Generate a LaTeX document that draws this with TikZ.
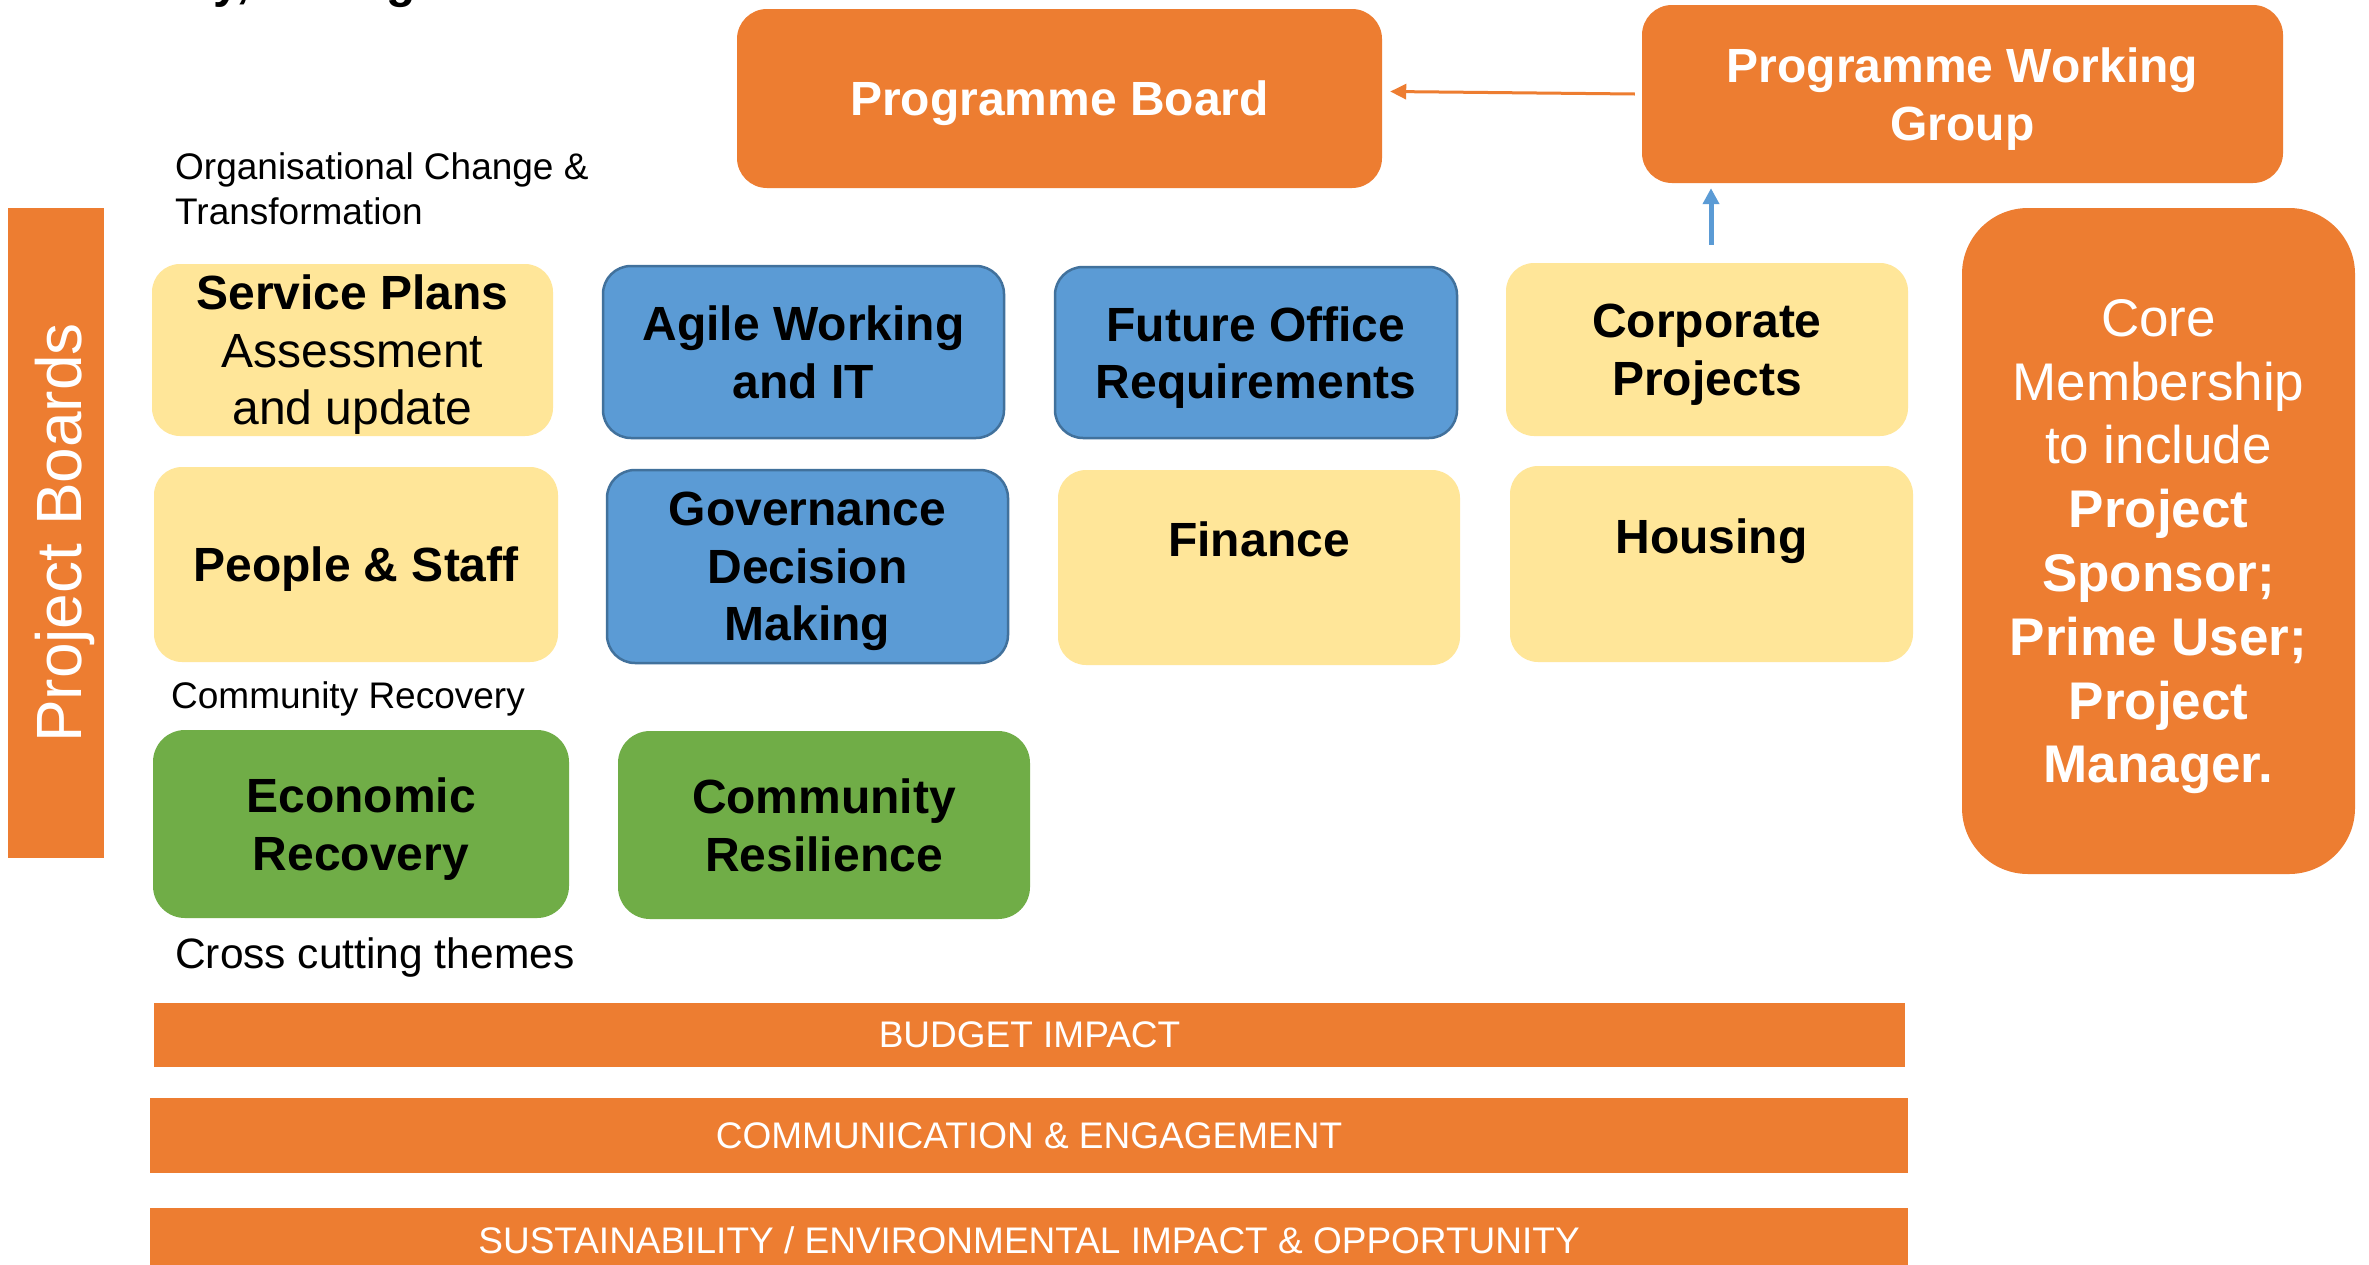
\documentclass[tikz,border=0pt]{standalone}
\usepackage{fontspec}
\setmainfont{Liberation Sans}
\usetikzlibrary{arrows.meta}
\definecolor{orng}{HTML}{ED7D31}
\definecolor{ylw}{HTML}{FFE699}
\definecolor{blu}{HTML}{5B9BD5}
\definecolor{bluedge}{HTML}{41719C}
\definecolor{grn}{HTML}{70AD47}
\tikzset{
  boxbase/.style={rounded corners=28pt, inner sep=0pt, align=center, text depth=0pt,
    font=\bfseries\fontsize{48}{57.6}\selectfont},
  orbox/.style={boxbase, fill=orng, text=white},
  ybox/.style={boxbase, fill=ylw, text=black},
  bbox/.style={boxbase, fill=blu, draw=bluedge, line width=2.5pt, text=black},
  gbox/.style={boxbase, fill=grn, text=black},
  bar/.style={fill=orng, text=white, inner sep=0pt, align=center,
    font=\fontsize{37}{44}\selectfont},
  lbl/.style={anchor=base west, inner sep=0pt, align=left,
    font=\fontsize{37}{44.4}\selectfont},
  ttl/.style={anchor=base west, inner sep=0pt, font=\bfseries\fontsize{48}{57.6}\selectfont}
}
\begin{document}
\begin{tikzpicture}[x=1pt,y=-1pt]
\useasboundingbox (0,0) rectangle (2369,1264);
\fill[white] (0,0) rectangle (2369,1264);

% cut-off title fragments
\node[ttl] (t1) at (213,-3) {y,};
\node[ttl] (t2) at (386,-3) {g};

% top boxes
\node[orbox, rounded corners=30pt, minimum width=645pt, minimum height=179pt] (pb) at (1059.5,98.5) {Programme Board};
\node[orbox, rounded corners=30pt, minimum width=641pt, minimum height=178pt] (pwg) at (1962.5,94) {Programme Working\\Group};

% project boards bar
\node[fill=orng, minimum width=96pt, minimum height=650pt, inner sep=0pt] (pbar) at (56,533) {};
\node[rotate=90, text=white, font=\fontsize{64}{70}\selectfont, inner sep=0pt] (pbt) at (65,533) {Project Boards};

% core membership
\node[orbox, rounded corners=66pt, minimum width=393pt, minimum height=666pt,
  font=\fontsize{53}{63.8}\selectfont] (core) at (2158.5,541)
  {Core\\Membership\\to include\\\textbf{Project}\\\textbf{Sponsor;}\\\textbf{Prime User;}\\\textbf{Project}\\\textbf{Manager.}};

% labels
\node[lbl] (oct) at (175,224) {Organisational Change \&\\Transformation};
\node[lbl] (crl) at (171,708) {Community Recovery};
\node[lbl, font=\fontsize{42.5}{50}\selectfont] (cct) at (175,968) {Cross cutting themes};

% row 1
\node[ybox, minimum width=401pt, minimum height=172pt] (sp) at (352.5,350)
  {Service Plans\\\mdseries Assessment\\\mdseries and update};
\node[bbox, minimum width=401pt, minimum height=172pt] (agile) at (803.5,352) {Agile Working\\and IT};
\node[bbox, minimum width=402pt, minimum height=171pt] (fo) at (1256,352.5) {Future Office\\Requirements};
\node[ybox, minimum width=402pt, minimum height=173pt] (corp) at (1707,349.5) {Corporate\\Projects};

% row 2
\node[ybox, minimum width=404pt, minimum height=195pt] (people) at (356,564.5) {People \& Staff};
\node[bbox, minimum width=401pt, minimum height=193pt] (gov) at (807.5,566.5) {Governance\\Decision\\Making};
\node[ybox, minimum width=402pt, minimum height=195pt] (fin) at (1259,567.5) {};
\node[font=\bfseries\fontsize{48}{57.6}\selectfont, inner sep=0pt, text depth=0pt] (fint) at (1259,539) {Finance};
\node[ybox, minimum width=403pt, minimum height=196pt] (hou) at (1711.5,564) {};
\node[font=\bfseries\fontsize{48}{57.6}\selectfont, inner sep=0pt, text depth=0pt] (hout) at (1711.5,536) {Housing};

% row 3
\node[gbox, rounded corners=32pt, minimum width=416pt, minimum height=188pt] (econ) at (361,824) {Economic\\Recovery};
\node[gbox, rounded corners=32pt, minimum width=412pt, minimum height=188pt] (cres) at (824,825) {Community\\Resilience};

% cross-cutting bars
\node[bar, minimum width=1751pt, minimum height=64pt] (bud) at (1029.5,1035) {BUDGET IMPACT};
\node[bar, minimum width=1758pt, minimum height=75pt] (com) at (1029,1135.5) {COMMUNICATION \& ENGAGEMENT};
\node[bar, minimum width=1758pt, minimum height=64pt] (sus) at (1029,1240) {SUSTAINABILITY / ENVIRONMENTAL IMPACT \& OPPORTUNITY};

% arrows
\draw[orng, line width=3pt, -{Triangle[length=16pt,width=15pt]}]
  ([xshift=-7pt]pwg.west) -- ([xshift=8pt,yshift=7pt]pb.east);
\draw[blu, line width=5pt, -{Triangle[length=16pt,width=16pt]}, shorten <=18pt, shorten >=5pt]
  ([xshift=4pt]corp.north) -- ([xshift=4pt]corp.north |- pwg.south);
\end{tikzpicture}
\end{document}
